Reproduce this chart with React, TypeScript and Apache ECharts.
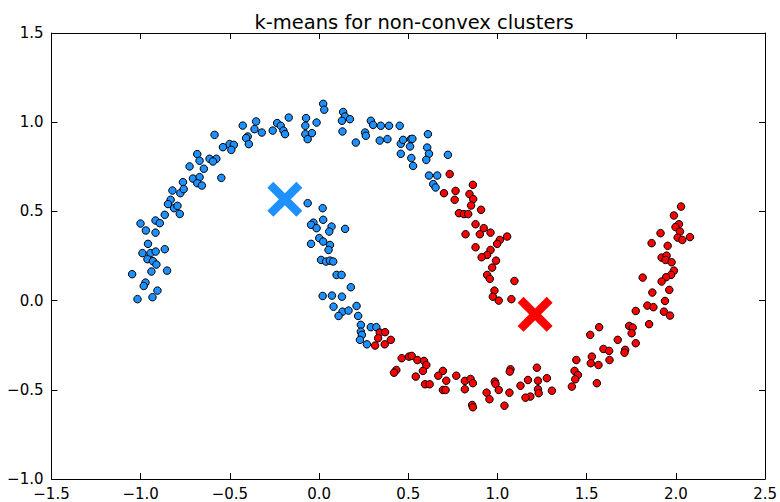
import React, { useEffect, useRef } from "react";
import * as echarts from "echarts";

const TITLE = "k-means for non-convex clusters";
const X_MIN = -1.5;
const X_MAX = 2.5;
const Y_MIN = -1.0;
const Y_MAX = 1.5;
const TICK_STEP = 0.5;

const blueCluster: [number, number][] = [
  [-0.170, 1.026], [-0.353, 1.004], [-0.428, 0.981], [-0.362, 0.961], [-0.321, 0.942],
  [-0.260, 0.953], [-0.235, 0.995], [-0.215, 0.980], [-0.200, 0.953], [-0.191, 0.933],
  [-0.400, 0.920], [-0.409, 0.911], [-0.394, 0.877], [-0.586, 0.929], [-0.502, 0.877],
  [-0.478, 0.873], [-0.539, 0.860], [-0.492, 0.845], [-0.683, 0.821], [-0.670, 0.784],
  [-0.614, 0.795], [-0.576, 0.795], [-0.595, 0.780], [-0.726, 0.752], [-0.646, 0.739],
  [-0.707, 0.684], [-0.670, 0.692], [-0.683, 0.658], [-0.657, 0.645], [-0.548, 0.688],
  [-0.763, 0.664], [-0.822, 0.617], [-0.778, 0.602], [-0.759, 0.625], [-0.832, 0.565],
  [-0.847, 0.541], [-0.813, 0.518], [-0.794, 0.531], [-0.781, 0.486], [-0.865, 0.481],
  [-1.001, 0.432], [-0.971, 0.393], [-0.917, 0.449], [-0.893, 0.434], [-0.917, 0.381],
  [-0.959, 0.318], [-0.990, 0.266], [-0.945, 0.266], [-0.916, 0.275], [-0.962, 0.232],
  [-0.931, 0.221], [-0.912, 0.202], [-0.865, 0.288], [-0.852, 0.168], [-0.940, 0.163],
  [-1.048, 0.148], [-0.973, 0.101], [-0.983, 0.082], [-0.906, 0.056], [-0.934, 0.019],
  [-1.018, 0.008],
  [0.023, 1.103], [0.029, 1.070], [-0.073, 1.023], [-0.077, 0.980], [-0.014, 0.998],
  [-0.077, 0.933], [-0.040, 0.939], [-0.064, 0.905], [0.135, 1.057], [0.145, 1.032],
  [0.128, 1.008], [0.173, 1.017], [0.131, 0.948], [0.206, 0.886], [0.290, 1.008],
  [0.303, 0.985], [0.346, 0.980], [0.392, 0.980], [0.452, 0.980], [0.258, 0.942],
  [0.262, 0.924], [0.340, 0.897], [0.383, 0.905], [0.458, 0.879], [0.471, 0.901],
  [0.514, 0.905], [0.523, 0.907], [0.510, 0.864], [0.458, 0.823], [0.517, 0.799],
  [0.527, 0.755], [0.610, 0.933], [0.606, 0.858], [0.616, 0.823], [0.601, 0.789],
  [0.722, 0.817], [0.616, 0.701], [0.662, 0.701], [0.640, 0.653], [0.653, 0.634],
  [-0.064, 0.546], [0.020, 0.518], [-0.032, 0.437], [-0.045, 0.425], [-0.014, 0.406],
  [0.023, 0.453], [0.070, 0.415], [0.057, 0.387], [0.146, 0.402], [0.001, 0.350],
  [0.023, 0.331], [-0.045, 0.318], [0.061, 0.312], [0.053, 0.284], [0.011, 0.228],
  [0.039, 0.219], [0.061, 0.224], [0.079, 0.219], [0.098, 0.144], [0.126, 0.144],
  [0.178, 0.075], [0.020, 0.026], [0.072, 0.028], [0.128, 0.022], [0.081, -0.034],
  [0.131, -0.062], [0.165, -0.056], [0.210, -0.030], [0.109, -0.086], [0.219, -0.086],
  [0.234, -0.136], [0.290, -0.149], [0.321, -0.149], [0.234, -0.174], [0.240, -0.192],
  [0.229, -0.220], [0.268, -0.245],
];

const redCluster: [number, number][] = [
  [0.340, -0.179], [0.370, -0.177], [0.331, -0.211], [0.402, -0.220], [0.368, -0.245],
  [0.314, -0.252], [0.463, -0.323], [0.504, -0.314], [0.519, -0.310], [0.551, -0.333],
  [0.588, -0.338], [0.601, -0.361], [0.582, -0.394], [0.433, -0.389], [0.420, -0.404],
  [0.542, -0.426], [0.694, -0.394], [0.668, -0.421], [0.713, -0.449], [0.594, -0.469],
  [0.620, -0.469], [0.769, -0.421], [0.817, -0.450], [0.849, -0.439], [0.862, -0.463],
  [0.694, -0.501], [0.709, -0.501], [0.817, -0.497], [0.858, -0.585], [0.862, -0.598],
  [0.939, -0.516], [0.985, -0.454], [0.989, -0.467], [0.955, -0.553], [1.007, -0.501],
  [1.039, -0.589], [1.067, -0.516], [1.073, -0.385], [1.069, -0.398], [1.129, -0.477],
  [1.171, -0.445], [1.184, -0.538], [1.157, -0.544], [1.221, -0.376], [1.227, -0.449],
  [1.227, -0.497], [1.231, -0.519], [1.277, -0.435],
  [0.732, 0.709], [0.700, 0.602], [0.765, 0.615], [0.760, 0.565], [0.862, 0.649],
  [0.843, 0.597], [0.864, 0.569], [0.852, 0.533], [0.908, 0.509], [0.784, 0.490],
  [0.812, 0.485], [0.836, 0.485], [0.877, 0.428], [0.923, 0.406], [0.961, 0.381],
  [0.821, 0.372], [0.901, 0.372], [1.054, 0.359], [1.013, 0.340], [0.998, 0.318],
  [0.877, 0.299], [0.961, 0.284], [0.942, 0.256], [0.911, 0.243], [0.992, 0.224],
  [0.970, 0.185], [0.942, 0.144], [0.957, 0.122], [1.095, 0.110], [0.983, 0.056],
  [0.974, 0.022], [1.007, 0.000], [1.078, 0.008],
  [2.029, 0.527], [1.989, 0.477], [2.017, 0.428], [1.998, 0.412], [2.023, 0.387],
  [2.010, 0.353], [2.036, 0.340], [2.079, 0.356], [1.914, 0.378], [1.864, 0.322],
  [1.954, 0.307], [1.920, 0.241], [1.948, 0.252], [1.942, 0.228], [1.976, 0.215],
  [1.989, 0.168], [1.973, 0.144], [1.945, 0.131], [1.920, 0.107], [1.814, 0.129],
  [1.963, 0.060], [1.868, 0.045], [1.939, -0.002], [1.840, -0.028], [1.874, -0.037],
  [1.933, -0.062], [1.967, -0.084], [1.775, -0.058], [1.850, -0.132], [1.738, -0.142],
  [1.758, -0.151], [1.752, -0.183], [1.775, -0.239], [1.570, -0.149], [1.520, -0.192],
  [1.674, -0.220], [1.594, -0.271], [1.626, -0.282], [1.716, -0.276], [1.712, -0.292],
  [1.628, -0.333], [1.529, -0.314], [1.523, -0.351], [1.566, -0.361], [1.442, -0.333],
  [1.432, -0.394], [1.451, -0.417], [1.436, -0.441], [1.417, -0.482], [1.557, -0.463],
  [1.305, -0.505],
];

const blueCentroid: [number, number][] = [[-0.192, 0.568]];
const redCentroid: [number, number][] = [[1.211, -0.077]];

const BLUE = "#1E90FF";
const RED = "#FF0000";
const X_SYMBOL =
  "path://M0,17L17,0L50,33L83,0L100,17L67,50L100,83L83,100L50,67L17,100L0,83L33,50Z";

const fmt = (v: number) => {
  const s = Math.abs(v) < 1e-9 ? "0.0" : v.toFixed(1);
  return s.replace("-", "\u2212");
};

export default function App() {
  const ref = useRef<HTMLDivElement>(null);

  useEffect(() => {
    if (!ref.current) return;
    const chart = echarts.init(ref.current, undefined, { renderer: "svg" });
    const font = "DejaVu Sans";
    const axisCommon = {
      type: "value" as const,
      interval: TICK_STEP,
      axisLine: { show: true, onZero: false, lineStyle: { color: "#000", width: 1 } },
      axisTick: { show: true, inside: true, length: 6, lineStyle: { color: "#000", width: 1 } },
      splitLine: { show: false },
    };
    const labelStyle = {
      color: "#000",
      fontFamily: font,
      fontSize: 15,
      formatter: fmt,
    };
    chart.setOption({
      animation: false,
      backgroundColor: "#fff",
      title: {
        text: TITLE,
        left: 409,
        textAlign: "center",
        top: 7,
        textStyle: { fontFamily: font, fontSize: 19.5, fontWeight: "normal", color: "#000" },
      },
      grid: { left: 51.5, right: 13, top: 33, bottom: 23, containLabel: false },
      xAxis: [
        {
          ...axisCommon,
          min: X_MIN,
          max: X_MAX,
          position: "bottom",
          axisLabel: { ...labelStyle, margin: 7 },
        },
        {
          ...axisCommon,
          min: X_MIN,
          max: X_MAX,
          position: "top",
          axisLabel: { show: false },
        },
      ],
      yAxis: [
        {
          ...axisCommon,
          min: Y_MIN,
          max: Y_MAX,
          position: "left",
          axisLabel: { ...labelStyle, margin: 8 },
        },
        {
          ...axisCommon,
          min: Y_MIN,
          max: Y_MAX,
          position: "right",
          axisLabel: { show: false },
        },
      ],
      series: [
        {
          type: "scatter",
          data: blueCluster,
          symbol: "circle",
          symbolSize: 7.5,
          itemStyle: { color: BLUE, borderColor: "#000", borderWidth: 1, opacity: 1 },
          emphasis: { disabled: true },
        },
        {
          type: "scatter",
          data: redCluster,
          symbol: "circle",
          symbolSize: 7.5,
          itemStyle: { color: RED, borderColor: "#000", borderWidth: 1, opacity: 1 },
          emphasis: { disabled: true },
        },
        {
          type: "scatter",
          data: blueCentroid,
          symbol: X_SYMBOL,
          symbolSize: 35,
          symbolKeepAspect: true,
          itemStyle: { color: BLUE, opacity: 1 },
          emphasis: { disabled: true },
          z: 5,
        },
        {
          type: "scatter",
          data: redCentroid,
          symbol: X_SYMBOL,
          symbolSize: 35,
          symbolKeepAspect: true,
          itemStyle: { color: RED, opacity: 1 },
          emphasis: { disabled: true },
          z: 5,
        },
      ],
    });
    return () => chart.dispose();
  }, []);

  return (
    <div
      ref={ref}
      style={{ position: "absolute", left: 0, top: 0, width: 780, height: 502 }}
    />
  );
}
